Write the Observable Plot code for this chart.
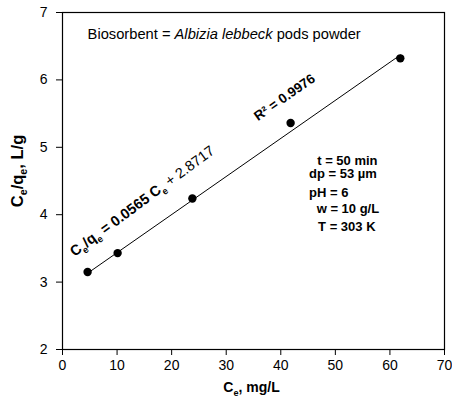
<!DOCTYPE html>
<html><head><meta charset="utf-8">
<script src="https://cdn.jsdelivr.net/npm/d3@7"></script>
<script src="https://cdn.jsdelivr.net/npm/@observablehq/plot@0.6"></script>
<style>
body{margin:0;background:#fff}
svg{font-family:"Liberation Sans",Arial,sans-serif}
</style>
</head><body><div id="chart"></div>
<script>
// Data
const ce = [4.6, 10.1, 23.8, 41.8, 61.9];          // Ce, mg/L
const ceqe = [3.15, 3.43, 4.24, 5.36, 6.32];       // Ce/qe, L/g
const slope = 0.0565, intercept = 2.8717, r2 = 0.9976;
const xTicks = [0, 10, 20, 30, 40, 50, 60, 70];
const yTicks = [2, 3, 4, 5, 6, 7];
const params = ["t = 50 min", "dp = 53 µm", "pH = 6", "w = 10 g/L", "T = 303 K"];
const titleText = "Biosorbent = Albizia lebbeck pods powder";
const eqText = `Ce/qe = ${slope} Ce + ${intercept}`;
const r2Text = `R² = ${r2}`;
const xLabel = "Ce, mg/L";
const yLabel = "Ce/qe, L/g";

const points = ce.map((x, i) => ({x, y: ceqe[i]}));
const fit = [ce[0], ce[ce.length - 1]].map(x => ({x, y: slope * x + intercept}));

const paramStyle = {fontWeight: "bold", fontSize: 13, textAnchor: "middle"};

const svg = Plot.plot({
  width: 452, height: 406,
  marginLeft: 62, marginRight: 8, marginTop: 12, marginBottom: 57,
  style: {fontFamily: '"Liberation Sans", Arial, sans-serif', fontSize: "14px", background: "white", overflow: "visible"},
  x: {domain: [0, 70]},
  y: {domain: [2, 7]},
  marks: [
    Plot.frame({stroke: "black", strokeWidth: 1.2}),
    Plot.axisX({ticks: xTicks, tickSize: 6, tickPadding: 5, fontSize: 14, label: null, tickFormat: d => d}),
    Plot.axisY({ticks: yTicks, tickSize: 6, tickPadding: 9, fontSize: 14, label: null, tickFormat: d => d}),
    Plot.line(fit, {x: "x", y: "y", stroke: "black", strokeWidth: 1}),
    Plot.dot(points, {x: "x", y: "y", r: 4.2, fill: "black"}),
    Plot.text([titleText], {text: d => d, x: 4.6, y: 6.67, textAnchor: "start", fontSize: 14.7}),
    Plot.text([eqText], {text: d => d, x: 14.6, y: 4.2, rotate: -36.5, fontSize: 14.5, fontWeight: "bold"}),
    Plot.text([r2Text], {text: d => d, x: 40.7, y: 5.74, rotate: -35, fontSize: 13.5, fontWeight: "bold"}),
    Plot.text([params[0]], {text: d => d, x: 52.2, y: 4.80, ...paramStyle}),
    Plot.text([params[1]], {text: d => d, x: 51.4, y: 4.60, ...paramStyle}),
    Plot.text([params[2]], {text: d => d, x: 48.8, y: 4.33, ...paramStyle}),
    Plot.text([params[3]], {text: d => d, x: 52.3, y: 4.09, ...paramStyle}),
    Plot.text([params[4]], {text: d => d, x: 52.1, y: 3.825, ...paramStyle}),
    Plot.text([xLabel], {text: d => d, frameAnchor: "bottom", dx: -2, dy: 42, fontSize: 14, fontWeight: "bold"}),
    Plot.text([yLabel], {text: d => d, frameAnchor: "left", textAnchor: "middle", dx: -45, dy: -10, rotate: -90, fontSize: 16.5, fontWeight: "bold"})
  ]
});

function rich(el, parts) {
  const sel = d3.select(el);
  sel.text(null);
  let shift = 0;
  for (const p of parts) {
    const ts = sel.append("tspan").text(p.t);
    const target = p.sub ? 4 : 0;
    if (target !== shift) { ts.attr("dy", target - shift); shift = target; }
    if (p.sub) ts.attr("font-size", "0.65em");
    if (p.italic) ts.attr("font-style", "italic");
    if (p.weight) ts.attr("font-weight", p.weight);
  }
}
const texts = Array.from(svg.querySelectorAll("text"));
const find = s => texts.find(t => t.textContent === s);
rich(find(titleText), [{t: "Biosorbent = "}, {t: "Albizia lebbeck", italic: true}, {t: " pods powder"}]);
rich(find(eqText), [{t: "C"}, {t: "e", sub: true}, {t: "/q"}, {t: "e", sub: true}, {t: ` = ${slope} C`}, {t: "e", sub: true}, {t: ` + ${intercept}`, weight: "normal"}]);
rich(find(xLabel), [{t: "C"}, {t: "e", sub: true}, {t: ", mg/L"}]);
rich(find(yLabel), [{t: "C"}, {t: "e", sub: true}, {t: "/q"}, {t: "e", sub: true}, {t: ", L/g"}]);

document.getElementById("chart").appendChild(svg);
</script>
</body></html>
